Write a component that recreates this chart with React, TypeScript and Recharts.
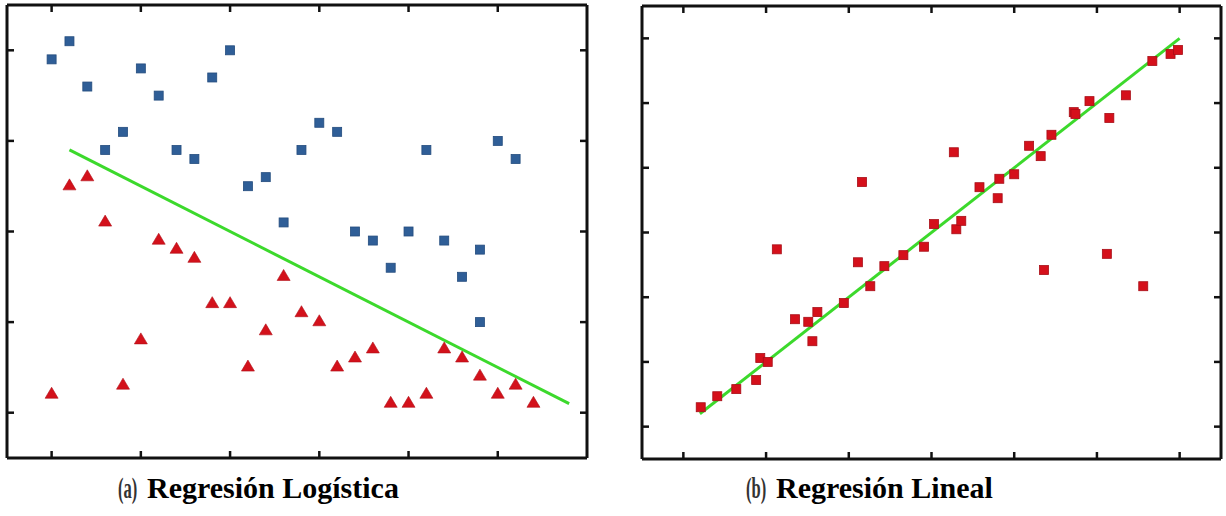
import React from 'react';
import { ScatterChart, Scatter, XAxis, YAxis, ReferenceLine } from 'recharts';

// (a) logistic regression: two classes + decision boundary
const LOG_BLUE_X = [1.0, 1.2, 1.4, 1.6, 1.8, 2.0, 2.2, 2.4, 2.6, 2.8, 3.0, 3.2, 3.4, 3.6, 3.8, 4.0, 4.2, 4.4, 4.6, 4.8, 5.0, 5.2, 5.4, 5.6, 5.8, 5.8, 6.0, 6.2];
const LOG_BLUE_Y = [4.9, 5.1, 4.6, 3.9, 4.1, 4.8, 4.5, 3.9, 3.8, 4.7, 5.0, 3.5, 3.6, 3.1, 3.9, 4.2, 4.1, 3.0, 2.9, 2.6, 3.0, 3.9, 2.9, 2.5, 2.8, 2.0, 4.0, 3.8];
const LOG_RED_X = [1.0, 1.2, 1.4, 1.6, 1.8, 2.0, 2.2, 2.4, 2.6, 2.8, 3.0, 3.2, 3.4, 3.6, 3.8, 4.0, 4.2, 4.4, 4.6, 4.8, 5.0, 5.2, 5.4, 5.6, 5.8, 6.0, 6.2, 6.4];
const LOG_RED_Y = [1.2, 3.5, 3.6, 3.1, 1.3, 1.8, 2.9, 2.8, 2.7, 2.2, 2.2, 1.5, 1.9, 2.5, 2.1, 2.0, 1.5, 1.6, 1.7, 1.1, 1.1, 1.2, 1.7, 1.6, 1.4, 1.2, 1.3, 1.1];
const LOG_LINE_X = [1.2, 6.8];
const LOG_LINE_Y = [3.9, 1.1];
const LOG_X_TICKS = [1, 2, 3, 4, 5, 6];
const LOG_Y_TICKS = [1, 2, 3, 4, 5];

// (b) linear regression
const LIN_X = [1.21, 1.41, 1.64, 1.88, 1.93, 2.02, 2.13, 2.35, 2.51, 2.56, 2.62, 2.94, 3.11, 3.16, 3.26, 3.43, 3.66, 3.91, 4.03, 4.27, 4.30, 4.36, 4.58, 4.80, 4.82, 5.00, 5.18, 5.32, 5.36, 5.45, 5.72, 5.74, 5.91, 6.12, 6.15, 6.35, 6.56, 6.67, 6.89, 6.98];
const LIN_Y = [1.30, 1.47, 1.58, 1.72, 2.06, 2.00, 3.74, 2.66, 2.62, 2.32, 2.77, 2.91, 3.54, 4.78, 3.17, 3.48, 3.65, 3.78, 4.13, 5.24, 4.05, 4.18, 4.70, 4.53, 4.83, 4.90, 5.34, 5.18, 3.42, 5.51, 5.86, 5.83, 6.03, 3.67, 5.77, 6.12, 3.17, 6.65, 6.76, 6.82];
const LIN_LINE_X = [1.2, 7.0];
const LIN_LINE_Y = [1.2, 7.0];
const LIN_TICKS = [1, 2, 3, 4, 5, 6, 7];

const zip = (xs: number[], ys: number[]) => xs.map((x, i) => ({ x, y: ys[i] }));

const blueData = zip(LOG_BLUE_X, LOG_BLUE_Y);
const redData = zip(LOG_RED_X, LOG_RED_Y);
const logLine = zip(LOG_LINE_X, LOG_LINE_Y);
const linData = zip(LIN_X, LIN_Y);
const linLine = zip(LIN_LINE_X, LIN_LINE_Y);

const GREEN = '#3cd92c';
const INK = '#111';
const axisLine = { stroke: INK, strokeWidth: 3 };
const tickLine = { stroke: INK, strokeWidth: 2.5 };

const square = (fill: string, stroke: string, s: number) => (p: any) => (
  <rect x={p.cx - s / 2} y={p.cy - s / 2} width={s} height={s} fill={fill} stroke={stroke} strokeWidth={0.8} />
);

const triangle = (p: any) => {
  const w = 13, h = 11;
  const pts = `${p.cx},${p.cy - (h * 2) / 3} ${p.cx + w / 2},${p.cy + h / 3} ${p.cx - w / 2},${p.cy + h / 3}`;
  return <polygon points={pts} fill="#d3111b" stroke="#b00f18" strokeWidth={0.6} />;
};

const noDot = () => <g />;
const noLabel = () => <g />;

// short inward tick hanging from the top border, at the x the reference line maps to
const topTick = (p: any) => {
  const top = Math.min(p.y1, p.y2);
  return <line x1={p.x1} y1={top} x2={p.x1} y2={top + 7} stroke={INK} strokeWidth={2.5} />;
};

// mirrored axes so tick marks point inward; the top axis only draws the border line
function axes(domainX: number[], domainY: number[], xt: number[], yt: number[]) {
  const common = { axisLine, tickLine, tick: noLabel, tickSize: 7, mirror: true, allowDataOverflow: true };
  return [
    <XAxis key="b" xAxisId="b" type="number" dataKey="x" orientation="bottom" domain={domainX} ticks={xt} height={1} {...common} />,
    <XAxis key="t" xAxisId="t" type="number" dataKey="x" orientation="top" domain={domainX} ticks={xt} height={1} {...common} tickLine={false} />,
    <YAxis key="l" yAxisId="l" type="number" dataKey="y" orientation="left" domain={domainY} ticks={yt} width={1} {...common} />,
    <YAxis key="r" yAxisId="r" type="number" dataKey="y" orientation="right" domain={domainY} ticks={yt} width={1} {...common} />,
    ...xt.map((t) => (
      <ReferenceLine key={`tt${t}`} x={t} xAxisId="b" yAxisId="l" shape={topTick} ifOverflow="visible" />
    )),
  ];
}

export default function App() {
  return (
    <div style={{ position: 'absolute', left: 0, top: 0, width: 1226, height: 516, background: '#fff' }}>
      <div style={{ position: 'absolute', left: 0, top: 0 }}>
        <ScatterChart width={600} height={470} margin={{ top: 5, right: 13, bottom: 12, left: 7 }}>
          {axes([0.5, 7], [0.5, 5.5], LOG_X_TICKS, LOG_Y_TICKS)}
          <Scatter data={logLine} xAxisId="t" yAxisId="r" line={{ stroke: GREEN, strokeWidth: 3 }} shape={noDot} isAnimationActive={false} />
          <Scatter data={blueData} xAxisId="b" yAxisId="l" shape={square('#2f5e97', '#244c7e', 9)} isAnimationActive={false} />
          <Scatter data={redData} xAxisId="b" yAxisId="l" shape={triangle} isAnimationActive={false} />
        </ScatterChart>
      </div>
      <div style={{ position: 'absolute', left: 630, top: 0 }}>
        <ScatterChart width={596} height={470} margin={{ top: 6, right: 5, bottom: 11, left: 12 }}>
          {axes([0.5, 7.5], [0.5, 7.5], LIN_TICKS, LIN_TICKS)}
          <Scatter data={linLine} xAxisId="t" yAxisId="r" line={{ stroke: GREEN, strokeWidth: 3 }} shape={noDot} isAnimationActive={false} />
          <Scatter data={linData} xAxisId="b" yAxisId="l" shape={square('#d5101b', '#a80e17', 9)} isAnimationActive={false} />
        </ScatterChart>
      </div>
      <svg width={1226} height={516} style={{ position: 'absolute', left: 0, top: 0, pointerEvents: 'none' }}>
        <g fontFamily="'Liberation Serif', 'Times New Roman', serif" fontWeight="bold" fontSize={30}>
          <text transform="translate(118,498) scale(0.55,1)" fill="#333">(a)</text>
          <text x={147} y={498} fill="#000">Regresión Logística</text>
          <text transform="translate(746,498) scale(0.55,1)" fill="#333">(b)</text>
          <text x={776} y={498} fill="#000">Regresión Lineal</text>
        </g>
      </svg>
    </div>
  );
}
